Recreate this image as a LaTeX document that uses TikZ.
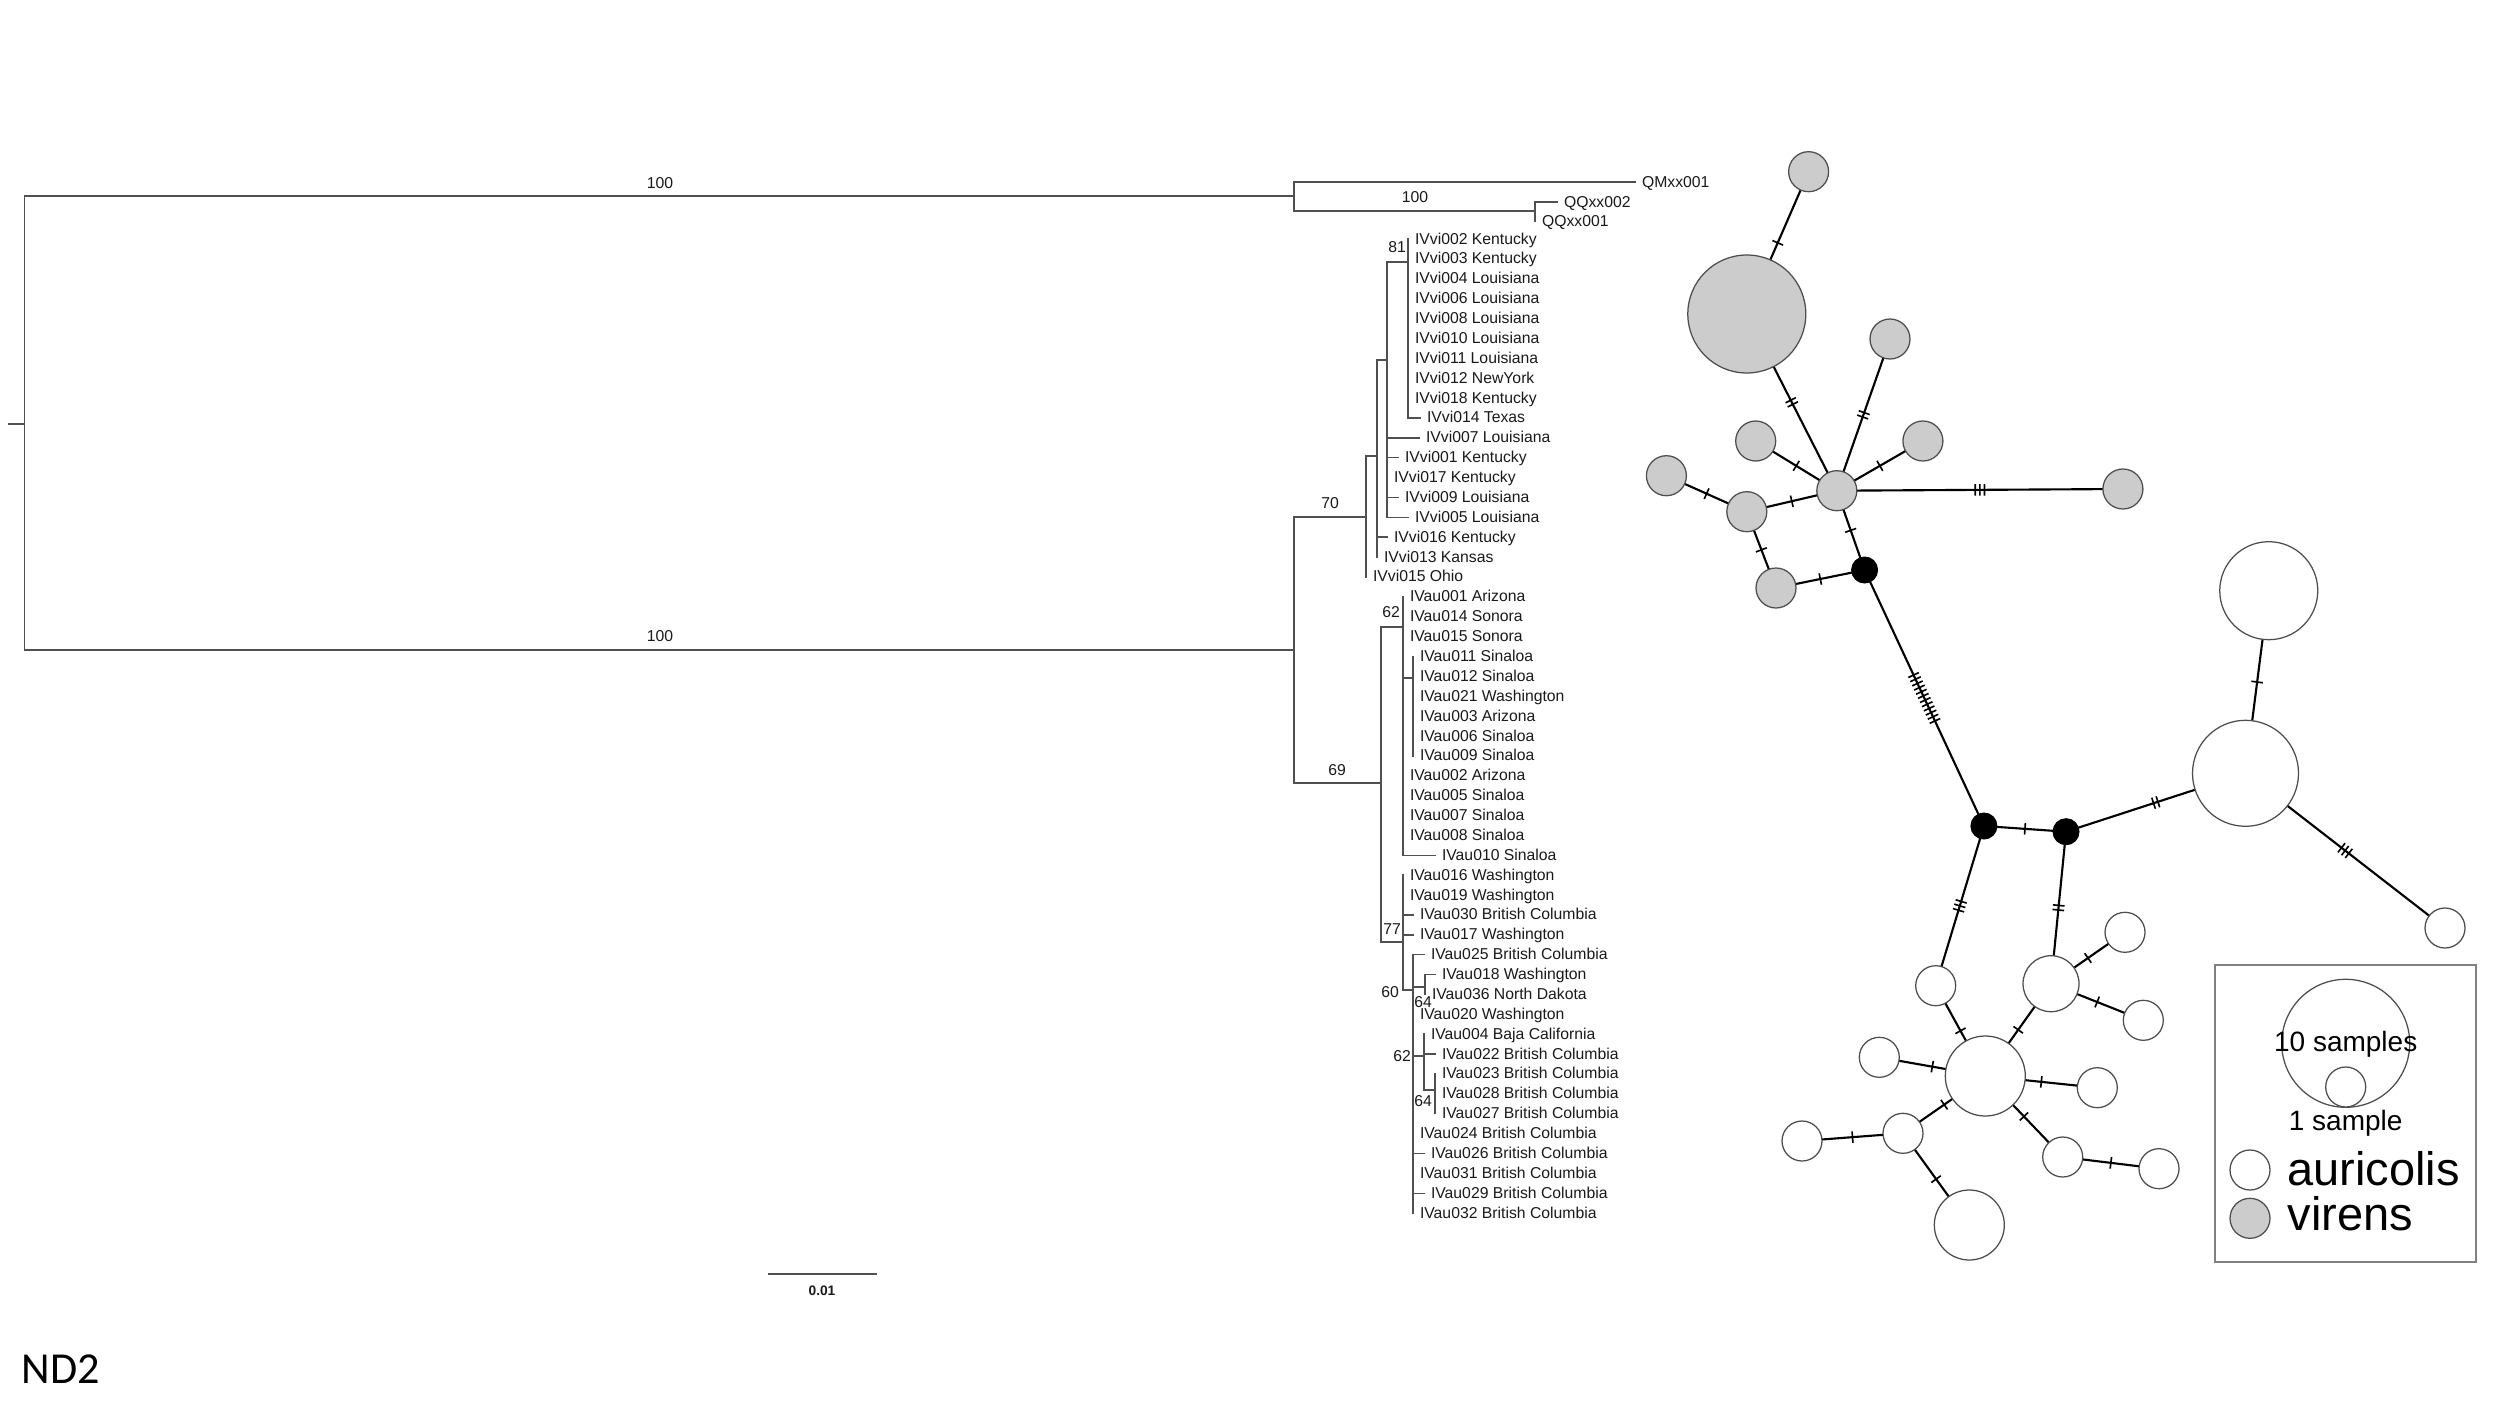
\documentclass[tikz,border=0pt]{standalone}
\usepackage{fontspec}
\setmainfont{Liberation Sans}
\newfontfamily\ndfont{Carlito}
\usetikzlibrary{decorations.markings,backgrounds}
\definecolor{treegray}{HTML}{505050}
\definecolor{txt}{HTML}{1A1A1A}
\definecolor{vgray}{HTML}{CCCCCC}
\definecolor{cgray}{HTML}{4D4D4D}
\definecolor{boxgray}{HTML}{808080}
\begin{document}
\begin{tikzpicture}[x=0.4pt,y=-0.4pt,
 tree/.style={draw=treegray,line width=0.6pt,line cap=rect},
 leaf/.style={anchor=west,inner xsep=2.6pt,inner ysep=0pt,text height=4.5pt,text depth=0.5pt,font=\fontsize{6.3}{7}\selectfont,text=txt},
 bs/.style={inner sep=0pt,font=\fontsize{6.3}{7}\selectfont,text=txt},
 hap/.style={circle,inner sep=0pt,minimum size=#1*0.8pt,draw=cgray,line width=0.5pt},
 aur/.style={hap=#1,fill=white},
 vir/.style={hap=#1,fill=vgray},
 med/.style={circle,inner sep=0pt,minimum size=10.4pt,fill=black,draw=black},
 edge/.style={draw=black,line width=0.85pt},
 mut/.style={postaction={decorate,decoration={markings,mark=at position 0.5 with {\foreach \k in {1,...,#1}{\draw[black,line width=0.65pt] ({(\k-(#1+1)/2)*4.6},-5.8) -- ({(\k-(#1+1)/2)*4.6},5.8);}}}}}
]
\path[use as bounding box] (0,0) rectangle (2500,1406);

% ---------------- tree ----------------
\draw[tree] (9,424) -- (24.7,424);
\draw[tree] (24.7,196) -- (24.7,650);
\draw[tree] (24.7,196) -- (1294,196);
\draw[tree] (24.7,650) -- (1294,650);
% outgroup
\draw[tree] (1294,182) -- (1294,211);
\draw[tree] (1294,182) -- (1635,182);
\draw[tree] (1294,211) -- (1535,211);
\draw[tree] (1535,202) -- (1535,221);
\draw[tree] (1535,202) -- (1557,202);
\node[leaf] (qm) at (1635,182) {QMxx001};
\node[leaf] (qq2) at (1557,202) {QQxx002};
\node[leaf] (qq1) at (1535,221) {QQxx001};
% ingroup / virens
\draw[tree] (1294,517) -- (1294,783);
\draw[tree] (1294,517) -- (1366,517);
\draw[tree] (1366,456) -- (1366,577);
\draw[tree] (1366,456) -- (1377,456);
\draw[tree] (1377,360) -- (1377,557.1);
\draw[tree] (1377,360) -- (1387,360);
\draw[tree] (1387,262) -- (1387,517.3);
\draw[tree] (1387,262) -- (1408,262);
\draw[tree] (1408,239) -- (1408,417.9);
% auricolis
\draw[tree] (1294,783) -- (1381,783);
\draw[tree] (1381,627) -- (1381,942);
\draw[tree] (1381,627) -- (1403,627);
\draw[tree] (1403,596.8) -- (1403,855.3);
\draw[tree] (1403,678) -- (1413,678);
\draw[tree] (1413,656.5) -- (1413,755.9);
\draw[tree] (1381,942) -- (1403,942);
\draw[tree] (1403,875.2) -- (1403,990);
\draw[tree] (1403,990) -- (1413,990);
\draw[tree] (1413,954.7) -- (1413,1213.1);
\draw[tree] (1413,987) -- (1425,987);
\draw[tree] (1425,974.6) -- (1425,994.4);
\draw[tree] (1413,1056) -- (1424,1056);
\draw[tree] (1424,1034.2) -- (1424,1090);
\draw[tree] (1424,1090) -- (1435,1090);
\draw[tree] (1435,1074) -- (1435,1113.7);

\foreach \i/\px/\ex/\t in {
0/1408/1408/IVvi002 Kentucky,
1/1408/1408/IVvi003 Kentucky,
2/1408/1408/IVvi004 Louisiana,
3/1408/1408/IVvi006 Louisiana,
4/1408/1408/IVvi008 Louisiana,
5/1408/1408/IVvi010 Louisiana,
6/1408/1408/IVvi011 Louisiana,
7/1408/1408/IVvi012 NewYork,
8/1408/1408/IVvi018 Kentucky,
9/1408/1420/IVvi014 Texas,
10/1387/1419/IVvi007 Louisiana,
11/1387/1398/IVvi001 Kentucky,
12/1387/1387/IVvi017 Kentucky,
13/1387/1398/IVvi009 Louisiana,
14/1387/1408/IVvi005 Louisiana,
15/1377/1387/IVvi016 Kentucky,
16/1377/1377/IVvi013 Kansas,
17/1366/1366/IVvi015 Ohio,
18/1403/1403/IVau001 Arizona,
19/1403/1403/IVau014 Sonora,
20/1403/1403/IVau015 Sonora,
21/1413/1413/IVau011 Sinaloa,
22/1413/1413/IVau012 Sinaloa,
23/1413/1413/IVau021 Washington,
24/1413/1413/IVau003 Arizona,
25/1413/1413/IVau006 Sinaloa,
26/1413/1413/IVau009 Sinaloa,
27/1403/1403/IVau002 Arizona,
28/1403/1403/IVau005 Sinaloa,
29/1403/1403/IVau007 Sinaloa,
30/1403/1403/IVau008 Sinaloa,
31/1403/1435/IVau010 Sinaloa,
32/1403/1403/IVau016 Washington,
33/1403/1403/IVau019 Washington,
34/1403/1413/IVau030 British Columbia,
35/1403/1413/IVau017 Washington,
36/1413/1424/IVau025 British Columbia,
37/1425/1435/IVau018 Washington,
38/1425/1425/IVau036 North Dakota,
39/1413/1413/IVau020 Washington,
40/1424/1424/IVau004 Baja California,
41/1424/1435/IVau022 British Columbia,
42/1435/1435/IVau023 British Columbia,
43/1435/1435/IVau028 British Columbia,
44/1435/1435/IVau027 British Columbia,
45/1413/1413/IVau024 British Columbia,
46/1413/1424/IVau026 British Columbia,
47/1413/1413/IVau031 British Columbia,
48/1413/1424/IVau029 British Columbia,
49/1413/1413/IVau032 British Columbia}{
 \node[leaf] (lf\i) at (\ex,{239+19.88*\i}) {\t};
 \ifnum\px<\ex \draw[tree] (\px,{239+19.88*\i}) -- (lf\i.west);\fi
}

% bootstrap values
\node[bs] (b100a) at (660,183) {100};
\node[bs] (b100b) at (660,636) {100};
\node[bs] (b100c) at (1415,197) {100};
\node[bs] (b81) at (1397,247) {81};
\node[bs] (b70) at (1330,503) {70};
\node[bs] (b62a) at (1391,612) {62};
\node[bs] (b69) at (1337,770) {69};
\node[bs] (b77) at (1392,929) {77};
\node[bs] (b60) at (1390,992) {60};
\node[bs] (b64a) at (1423,1002) {64};
\node[bs] (b62b) at (1402,1056) {62};
\node[bs] (b64b) at (1423,1101) {64};

% scale bar
\coordinate (sb1) at (768,1274);
\coordinate (sb2) at (877,1274);
\draw[tree,line width=0.7pt,line cap=butt] (sb1) -- (sb2);
\node[inner sep=0pt,font=\bfseries\fontsize{5.5}{6}\selectfont,text=txt] (sbl) at (822,1291) {0.01};

% ND2
\node[anchor=base west,inner sep=0pt,font=\ndfont\fontsize{17.7}{20}\selectfont] (nd2) at (21,1383) {ND2};

% ---------------- network ----------------
\node[vir=20] (g1) at (1808.6,171.7) {};
\node[vir=59] (g2) at (1746.8,314) {};
\node[vir=20] (g3) at (1890,339) {};
\node[vir=20] (g4) at (1755.7,441) {};
\node[vir=20] (g5) at (1922.9,441) {};
\node[vir=20] (g6) at (1666.4,475.7) {};
\node[vir=20] (g7) at (1746.8,511.7) {};
\node[vir=20] (h) at (1836.8,490.7) {};
\node[vir=20] (g8) at (2122.9,489) {};
\node[vir=20] (g9) at (1776,588) {};
\node[med] (b1) at (1864.6,570) {};
\node[med] (b2) at (1983.9,826) {};
\node[med] (b3) at (2066,831.7) {};
\node[aur=49] (w1) at (2268.75,590.7) {};
\node[aur=53] (w2) at (2245.5,773.3) {};
\node[aur=20] (w3) at (2445,928) {};
\node[aur=20] (w4) at (1935.7,985.7) {};
\node[aur=28] (w5) at (2051,983.7) {};
\node[aur=20] (w6) at (2125,932.3) {};
\node[aur=20] (w7) at (2143.3,1020.3) {};
\node[aur=40] (wh) at (1985.3,1076) {};
\node[aur=20] (w8) at (1879.3,1057.3) {};
\node[aur=20] (w9) at (2097.3,1087.7) {};
\node[aur=20] (w10) at (1903,1133.3) {};
\node[aur=20] (w11) at (1802,1141) {};
\node[aur=35] (w12) at (1969.3,1225) {};
\node[aur=20] (w13) at (2062.7,1157) {};
\node[aur=20] (w14) at (2159,1168.7) {};

\begin{pgfonlayer}{background}
\fill[white] (0,0) rectangle (2500,1406);
\draw[edge,mut=1] (g1.center) -- (g2.center);
\draw[edge,mut=2] (g2.center) -- (h.center);
\draw[edge,mut=2] (g3.center) -- (h.center);
\draw[edge,mut=1] (g4.center) -- (h.center);
\draw[edge,mut=1] (g5.center) -- (h.center);
\draw[edge,mut=3] (h.center) -- (g8.center);
\draw[edge,mut=1] (g7.center) -- (h.center);
\draw[edge,mut=1] (g6.center) -- (g7.center);
\draw[edge,mut=1] (g7.center) -- (g9.center);
\draw[edge,mut=1] (h.center) -- (b1.center);
\draw[edge,mut=1] (g9.center) -- (b1.center);
\draw[edge,mut=12] (b1.center) -- (b2.center);
\draw[edge,mut=1] (b2.center) -- (b3.center);
\draw[edge,mut=2] (b3.center) -- (w2.center);
\draw[edge,mut=1] (w2.center) -- (w1.center);
\draw[edge,mut=3] (w2.center) -- (w3.center);
\draw[edge,mut=3] (b2.center) -- (w4.center);
\draw[edge,mut=2] (b3.center) -- (w5.center);
\draw[edge,mut=1] (w4.center) -- (wh.center);
\draw[edge,mut=1] (w5.center) -- (wh.center);
\draw[edge,mut=1] (w5.center) -- (w6.center);
\draw[edge,mut=1] (w5.center) -- (w7.center);
\draw[edge,mut=1] (wh.center) -- (w8.center);
\draw[edge,mut=1] (wh.center) -- (w9.center);
\draw[edge,mut=1] (wh.center) -- (w10.center);
\draw[edge,mut=1] (w10.center) -- (w11.center);
\draw[edge,mut=1] (w10.center) -- (w12.center);
\draw[edge,mut=1] (wh.center) -- (w13.center);
\draw[edge,mut=1] (w13.center) -- (w14.center);
\end{pgfonlayer}

% ---------------- legend ----------------
\node[draw=boxgray,line width=0.5pt,minimum width=104.4pt,minimum height=118.8pt,inner sep=0pt] (legend) at (2345.5,1113.5) {};
\node[aur=64] (l10) at (2345.7,1043.3) {};
\node[aur=20] (l1) at (2345.7,1087) {};
\node[anchor=base,inner sep=0pt,font=\fontsize{11.2}{12}\selectfont] (t10) at (2345.7,1051.7) {10 samples};
\node[anchor=base,inner sep=0pt,font=\fontsize{11.2}{12}\selectfont] (t1) at (2345.7,1130) {1 sample};
\node[aur=20] (la) at (2250,1170) {};
\node[vir=20] (lv) at (2250,1218.3) {};
\node[anchor=base west,inner sep=0pt,font=\fontsize{18.8}{20}\selectfont] (ta) at (2287,1185) {auricolis};
\node[anchor=base west,inner sep=0pt,font=\fontsize{18.8}{20}\selectfont] (tv) at (2287,1230) {virens};
\end{tikzpicture}
\end{document}
